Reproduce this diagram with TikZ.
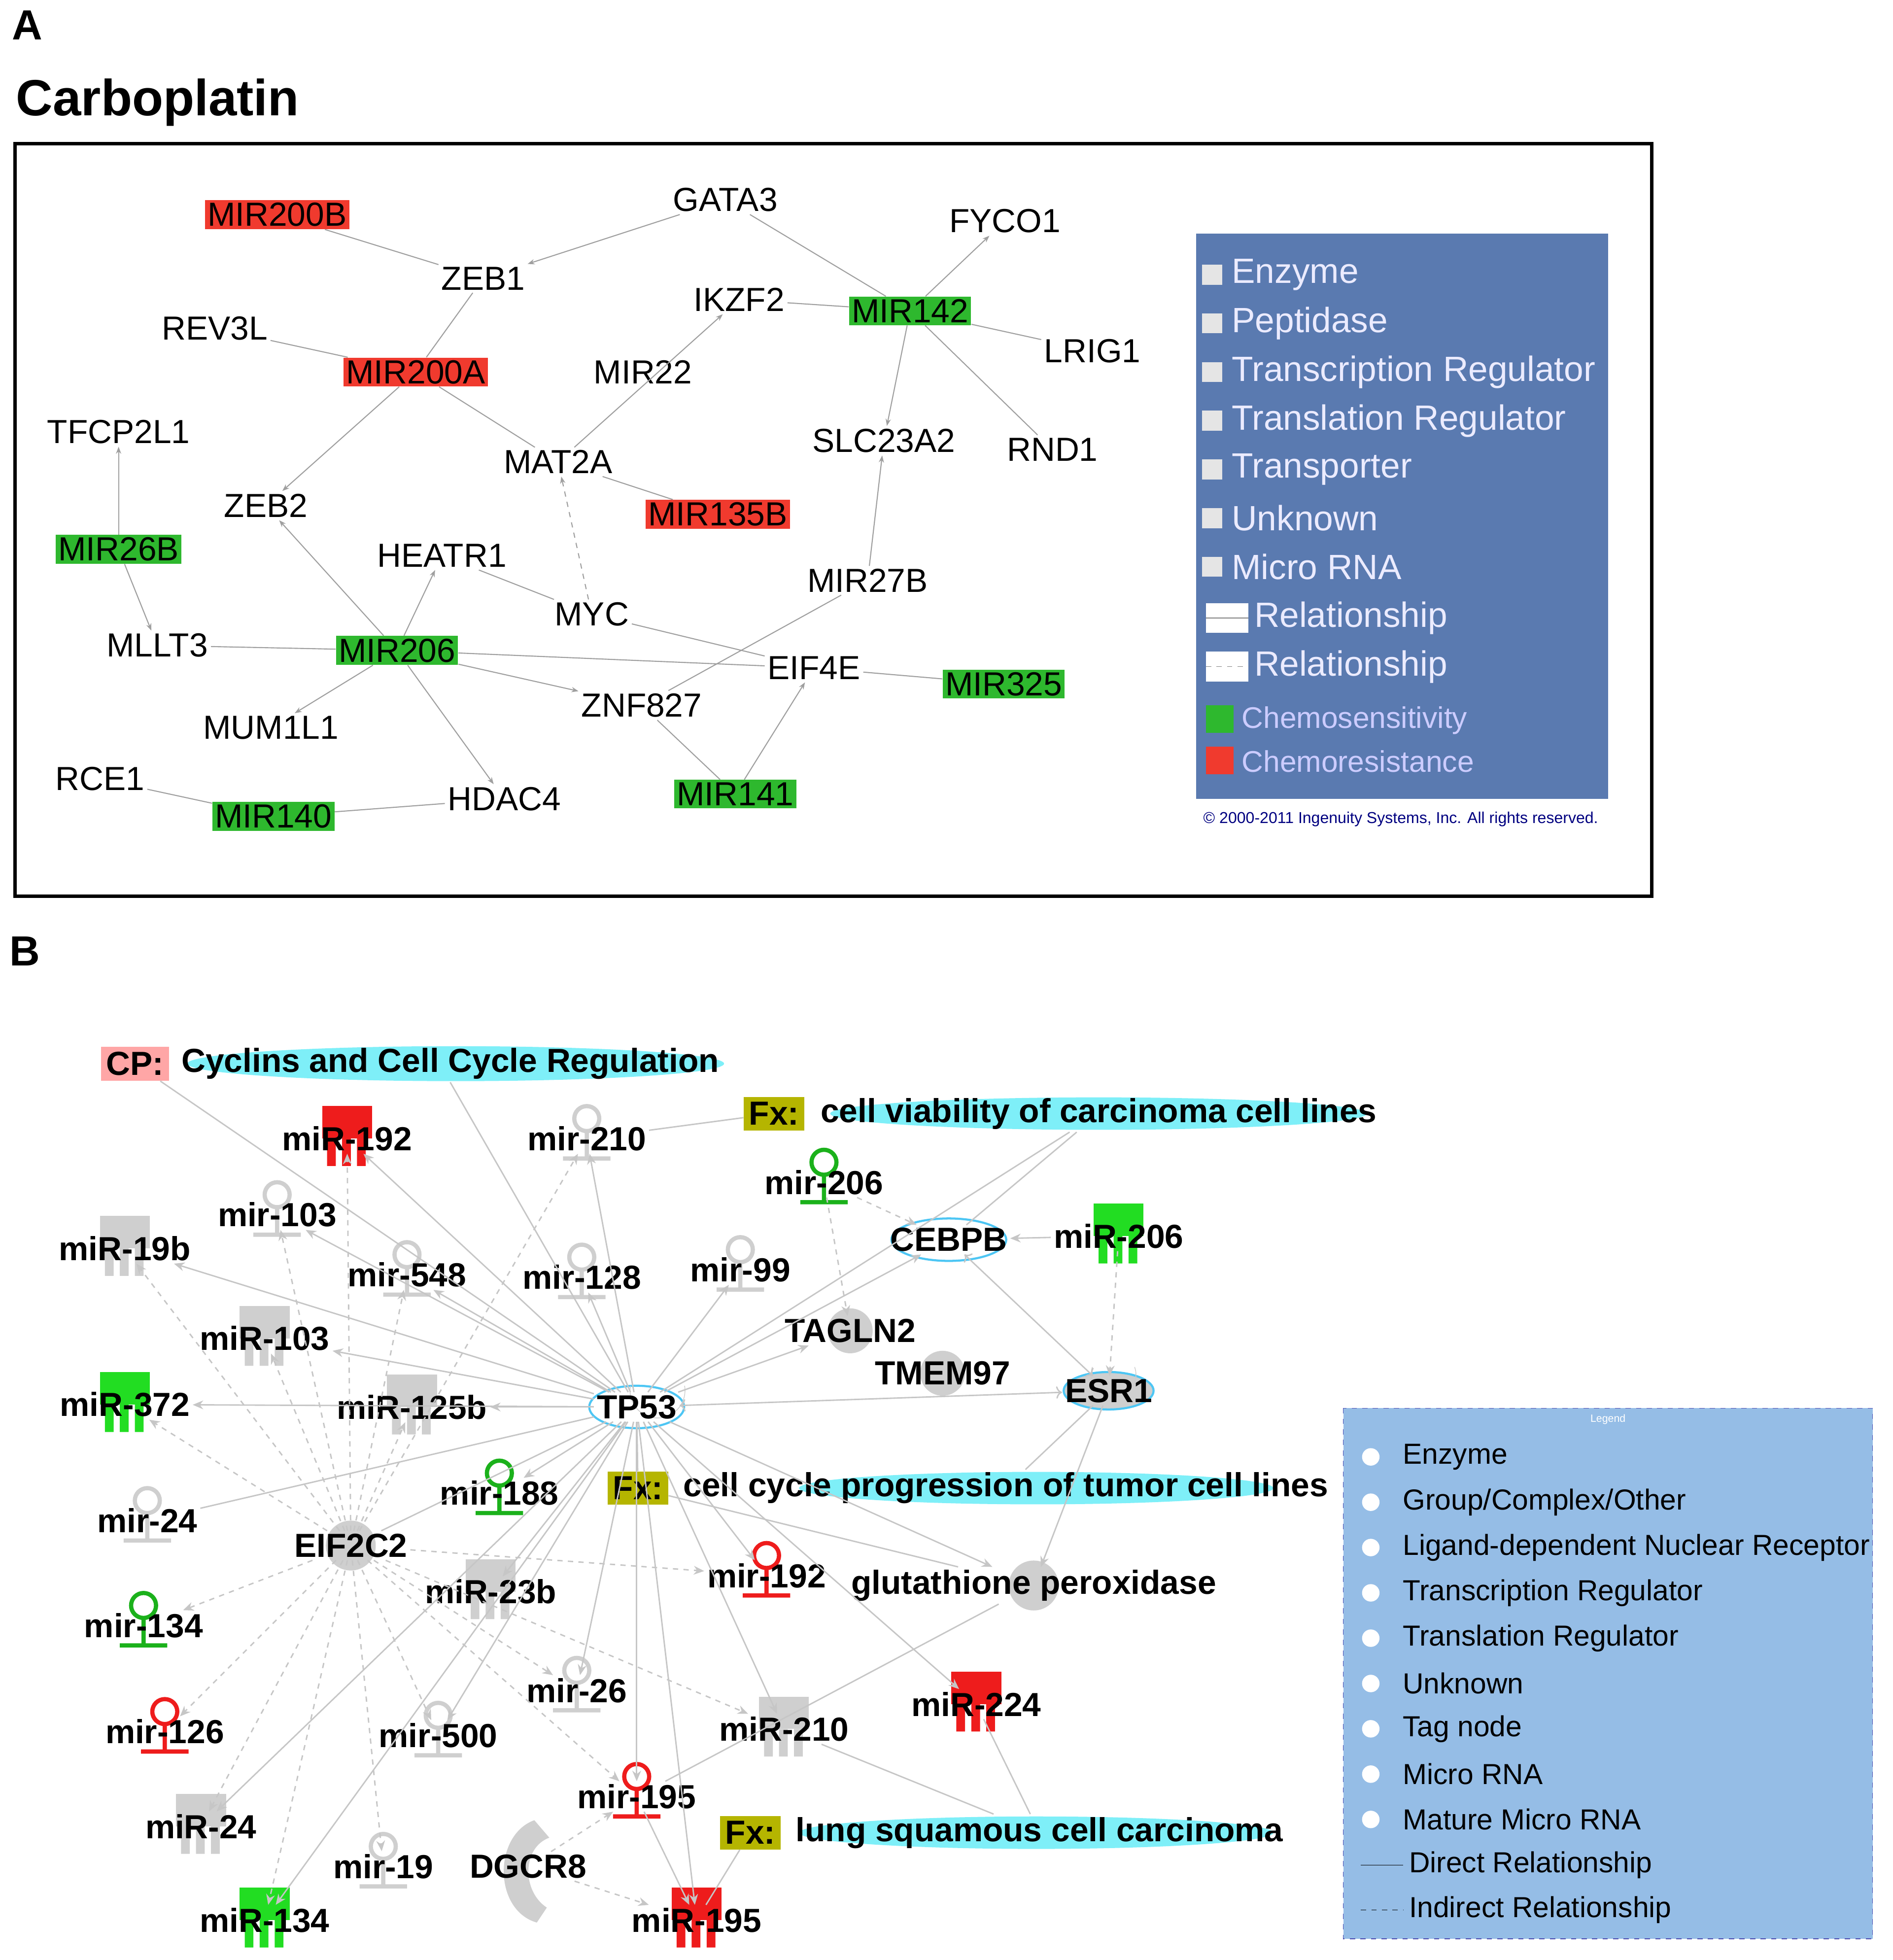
\documentclass[tikz,border=0pt]{standalone}
\usepackage{fontspec}
\setmainfont{Liberation Sans}
\usetikzlibrary{arrows.meta}
\definecolor{ared}{HTML}{F03A2E}
\definecolor{agreen}{HTML}{2EB82E}
\definecolor{bred}{HTML}{EE1C1C}
\definecolor{bgreen}{HTML}{22DD22}
\definecolor{shp}{HTML}{CFCFCF}
\definecolor{cyanh}{HTML}{7EEFF8}
\definecolor{olive}{HTML}{B5B500}
\definecolor{legA}{HTML}{5A7AB0}
\definecolor{legB}{HTML}{95BDE6}
\newcommand\matn[5]{\pic[fill=#5] at (#2,#3) {mature}; \node[bl] (#1) at (#2,#3) {#4};}
\newcommand\hpn[5]{\pic[draw=#5] at (#2,#3) {hairpin}; \node[bl] (#1) at (#2,#3) {#4};}
\begin{document}
\begin{tikzpicture}[x=0.25mm,y=-0.25mm,
 an/.style={font=\fontsize{19}{19}\selectfont, inner sep=1.5pt},
 ar/.style={an, fill=ared},
 ag/.style={an, fill=agreen},
 ae/.style={draw=gray!75, line width=0.6pt},
 aa/.style={ae, -{Stealth[length=4pt,width=3pt]}},
 bl/.style={font=\bfseries\fontsize{19}{19}\selectfont, inner sep=1.5pt},
 be/.style={draw=gray!45, line width=0.8pt},
 ba/.style={be, -{Stealth[length=6pt,width=5pt]}},
 bd/.style={ba, dashed},
 mature/.pic={\fill[pic actions] (-20,-26) rectangle (20,0);
   \fill[pic actions] (-16,0) rectangle (-9,22) (-4,0) rectangle (3,22) (8,0) rectangle (15,22);},
 hairpin/.pic={\draw[pic actions, line width=2.4pt] (0,-16) circle (10) (0,-6)--(0,16) (-19,16)--(19,16);},
 fxl/.style={font=\bfseries\fontsize{19}{19}\selectfont, fill=olive, inner sep=3pt},
 lg/.style={font=\fontsize{16.5}{16.5}\selectfont, anchor=west, inner sep=1pt},
 lga/.style={anchor=west, inner sep=1pt, font=\fontsize{20}{20}\selectfont, text=white!92!blue}
]
\useasboundingbox (0,0) rectangle (1516,1570);
% ================= Panel A
\node[font=\rmfamily\bfseries\fontsize{24}{24}\selectfont] at (22,20) {A};
\node[font=\bfseries\fontsize{29}{29}\selectfont, anchor=west] at (8,82) {Carboplatin};
\draw[line width=2pt] (12,115) rectangle (1323,718);
\node[ar] (MIR200B) at (222,172) {MIR200B};
\node[an] (GATA3) at (581,160) {GATA3};
\node[an] (FYCO1) at (805,177) {FYCO1};
\node[an] (ZEB1) at (387,223) {ZEB1};
\node[an] (IKZF2) at (592,240) {IKZF2};
\node[ag] (MIR142) at (729,249) {MIR142};
\node[an] (REV3L) at (172,263) {REV3L};
\node[an] (LRIG1) at (875,281) {LRIG1};
\node[ar] (MIR200A) at (333,298) {MIR200A};
\node[an] (MIR22) at (515,298) {MIR22};
\node[an] (TFCP2L1) at (95,346) {TFCP2L1};
\node[an] (SLC23A2) at (708,353) {SLC23A2};
\node[an] (RND1) at (843,360) {RND1};
\node[an] (MAT2A) at (447,370) {MAT2A};
\node[an] (ZEB2) at (213,405) {ZEB2};
\node[ar] (MIR135B) at (575,412) {MIR135B};
\node[ag] (MIR26B) at (95,440) {MIR26B};
\node[an] (HEATR1) at (354,445) {HEATR1};
\node[an] (MIR27B) at (695,465) {MIR27B};
\node[an] (MYC) at (474,492) {MYC};
\node[an] (MLLT3) at (126,517) {MLLT3};
\node[ag] (MIR206) at (318,521) {MIR206};
\node[an] (EIF4E) at (652,535) {EIF4E};
\node[ag] (MIR325) at (804,548) {MIR325};
\node[an] (ZNF827) at (514,565) {ZNF827};
\node[an] (MUM1L1) at (217,583) {MUM1L1};
\node[an] (RCE1) at (80,624) {RCE1};
\node[an] (HDAC4) at (404,640) {HDAC4};
\node[ag] (MIR141) at (589,636) {MIR141};
\node[ag] (MIR140) at (219,654) {MIR140};
\draw[ae] (MIR200B)--(ZEB1);
\draw[aa] (GATA3)--(ZEB1);
\draw[ae] (GATA3)--(MIR142);
\draw[ae] (ZEB1)--(MIR200A);
\draw[ae] (REV3L)--(MIR200A);
\draw[aa] (MIR200A)--(ZEB2);
\draw[ae] (MIR200A)--(MAT2A);
\draw[aa] (MAT2A)--(IKZF2);
\draw[ae] (IKZF2)--(MIR142);
\draw[aa] (MIR142)--(FYCO1);
\draw[ae] (MIR142)--(LRIG1);
\draw[ae] (MIR142)--(RND1);
\draw[aa] (MIR142)--(SLC23A2);
\draw[ae] (MAT2A)--(MIR135B);
\draw[aa,dashed] (MYC)--(MAT2A);
\draw[aa] (MIR27B)--(SLC23A2);
\draw[aa] (MIR26B)--(TFCP2L1);
\draw[aa] (MIR26B)--(MLLT3);
\draw[ae] (MLLT3)--(MIR206);
\draw[aa] (MIR206)--(ZEB2);
\draw[aa] (MIR206)--(HEATR1);
\draw[ae] (HEATR1)--(MYC);
\draw[ae] (MYC)--(EIF4E);
\draw[ae] (MIR206)--(EIF4E);
\draw[aa] (MIR206)--(MUM1L1);
\draw[aa] (MIR206)--(HDAC4);
\draw[aa] (MIR206)--(ZNF827);
\draw[ae] (ZNF827)--(MIR27B);
\draw[ae] (ZNF827)--(MIR141);
\draw[aa] (MIR141)--(EIF4E);
\draw[ae] (EIF4E)--(MIR325);
\draw[ae] (RCE1)--(MIR140);
\draw[ae] (MIR140)--(HDAC4);
% legend A
\fill[legA] (958,187) rectangle (1288,640);
\foreach \t [count=\i] in {Enzyme,Peptidase,Transcription Regulator,Translation Regulator,Transporter,Unknown,Micro RNA}{
  \fill[white!80!gray] (963,212+39*\i-39) rectangle (979,228+39*\i-39);
  \node[lga] at (985,220+39*\i-39) {\t};}
\fill[white] (966,483) rectangle (1000,507);
\draw[gray] (966,495)--(1000,495);
\node[lga] at (1003,495) {Relationship};
\fill[white] (966,522) rectangle (1000,546);
\draw[gray, dashed] (966,534)--(1000,534);
\node[lga] at (1003,534) {Relationship};
\fill[agreen] (966,565) rectangle (988,587);
\node[lga, font=\fontsize{17}{17}\selectfont, text=white!80!blue] at (993,577) {Chemosensitivity};
\fill[ared] (966,598) rectangle (988,620);
\node[lga, font=\fontsize{17}{17}\selectfont, text=white!80!blue] at (993,610) {Chemoresistance};
\node[font=\fontsize{9}{9}\selectfont, text=blue!50!black] at (1122,656) {\textcopyright\ 2000-2011 Ingenuity Systems, Inc. All rights reserved.};
% ================= Panel B
\node[font=\rmfamily\bfseries\fontsize{24}{24}\selectfont] at (20,762) {B};
\fill[cyanh] (365,852) ellipse (215 and 14);
\fill[cyanh] (880,892) ellipse (215 and 13);
\fill[cyanh] (830,1192) ellipse (190 and 13);
\fill[cyanh] (830,1468) ellipse (190 and 13);
\node[font=\bfseries\fontsize{19}{19}\selectfont, fill=red!35, inner sep=3pt] (CP) at (108,852) {CP:};
\node[bl, anchor=west] (CPt) at (143,852) {Cyclins and Cell Cycle Regulation};
\node[fxl] (FX1) at (620,892) {Fx:};
\node[bl, anchor=west] (FX1t) at (655,892) {cell viability of carcinoma cell lines};
\node[fxl] (FX2) at (511,1192) {Fx:};
\node[bl, anchor=west] (FX2t) at (545,1192) {cell cycle progression of tumor cell lines};
\node[fxl] (FX3) at (601,1468) {Fx:};
\node[bl, anchor=west] (FX3t) at (635,1468) {lung squamous cell carcinoma};
\fill[shp] (281,1238) circle (20);
\fill[shp] (681,1066) circle (18);
\fill[shp] (755,1100) circle (18);
\fill[shp] (828,1270) circle (20);
\fill[shp] (428,1458) .. controls (395,1470) and (395,1530) .. (430,1540) -- (438,1528) .. controls (418,1515) and (418,1480) .. (440,1472) -- cycle;
\draw[cyan!70, line width=1.2pt, fill=white] (510,1127) ellipse (38 and 17);
\draw[cyan!70, line width=1.2pt, fill=white] (760,993) ellipse (46 and 17);
\draw[cyan!70, line width=1.2pt, fill=shp] (888,1114) ellipse (36 and 15);
\draw[gray!40] (505,1110) arc (190:-10:22);
\draw[gray!40] (875,1095) arc (200:-20:18);
\node[bl] (TP53) at (510,1127) {TP53};
\node[bl] (CEBPB) at (760,993) {CEBPB};
\node[bl] (ESR1) at (888,1114) {ESR1};
\node[bl] (TAGLN2) at (681,1066) {TAGLN2};
\node[bl] (TMEM97) at (755,1100) {TMEM97};
\node[bl] (GP) at (828,1270) {glutathione peroxidase};
\node[bl] (EIF) at (281,1238) {EIF2C2};
\node[bl] (DGCR8) at (423,1495) {DGCR8};
\matn{M192}{278}{912}{miR-192}{bred}
\hpn{m210}{470}{912}{mir-210}{shp}
\hpn{m206}{660}{947}{mir-206}{bgreen!80!black}
\hpn{m103}{222}{973}{mir-103}{shp}
\matn{M19b}{100}{1000}{miR-19b}{shp}
\matn{M206}{896}{990}{miR-206}{bgreen}
\hpn{m548}{326}{1021}{mir-548}{shp}
\hpn{m128}{466}{1023}{mir-128}{shp}
\hpn{m99}{593}{1017}{mir-99}{shp}
\matn{M103}{212}{1072}{miR-103}{shp}
\matn{M372}{100}{1125}{miR-372}{bgreen}
\matn{M125b}{330}{1127}{miR-125b}{shp}
\hpn{m188}{400}{1196}{mir-188}{bgreen!80!black}
\hpn{m24}{118}{1218}{mir-24}{shp}
\matn{M23b}{393}{1275}{miR-23b}{shp}
\hpn{m192}{614}{1262}{mir-192}{bred}
\hpn{m134}{115}{1302}{mir-134}{bgreen!80!black}
\hpn{m26}{462}{1354}{mir-26}{shp}
\matn{M210}{628}{1385}{miR-210}{shp}
\matn{M224}{782}{1365}{miR-224}{bred}
\hpn{m126}{132}{1387}{mir-126}{bred}
\hpn{m500}{351}{1390}{mir-500}{shp}
\hpn{m195}{510}{1439}{mir-195}{bred}
\matn{M24}{161}{1463}{miR-24}{shp}
\hpn{m19}{307}{1495}{mir-19}{shp}
\matn{M134}{212}{1538}{miR-134}{bgreen}
\matn{M195}{558}{1538}{miR-195}{bred}
\foreach \t in {M192,m210,m103,M19b,m548,m128,m99,CEBPB,TAGLN2,M103,M372,M125b,m188,M23b,m192,GP,M210,m26,m500,m195,M195,M224,M24,M134}{
  \draw[ba] (TP53)--(\t);}
\draw[ba,<->] (TP53)--(ESR1);
\draw[be] (TP53)--(m24);
\draw[be] (TP53)--(EIF);
\foreach \t in {M192,m103,m548,m210,M125b,M103,M19b,M372,m134,m126,M24,M134,m19,m500,m26,M210,m192,m195}{
  \draw[bd] (EIF)--(\t);}
\draw[bd] (DGCR8)--(m195);
\draw[bd] (DGCR8)--(M195);
\draw[ba] (m195)--(M195);
\draw[bd] (m206)--(CEBPB);
\draw[bd] (m206)--(TAGLN2);
\draw[ba] (M206)--(CEBPB);
\draw[bd] (M206)--(ESR1);
\draw[ba,<->] (CEBPB)--(ESR1);
\draw[ba] (ESR1)--(GP);
\draw[be] (CP)--(TP53);
\draw[be] (CPt.south)--(TP53);
\draw[be] (FX1)--(m210);
\draw[be] (FX1t)--(TP53);
\draw[be] (FX1t)--(CEBPB);
\draw[be] (FX2)--(TP53);
\draw[be] (FX2t)--(ESR1);
\draw[be] (FX2)--(GP);
\draw[be] (FX3t)--(M224);
\draw[be] (FX3t)--(M210);
\draw[be] (FX3)--(M195);
\draw[be] (m195)--(GP);
% legend B
\draw[dashed, draw=blue!40!gray, fill=legB] (1076,1128) rectangle (1500,1553);
\node[font=\fontsize{6}{6}\selectfont, text=white] at (1288,1137) {Legend};
\foreach \t [count=\i] in {Enzyme,Group/Complex/Other,Ligand-dependent Nuclear Receptor,Transcription Regulator,Translation Regulator,Unknown,Tag node,Micro RNA,Mature Micro RNA}{
  \fill[white] (1098,1167+36.3*\i-36.3) circle (7);
  \node[lg] at (1122,1167+36.3*\i-36.3) {\t};}
\draw[black] (1090,1494)--(1124,1494);
\node[lg] at (1127,1494) {Direct Relationship};
\draw[black, dashed] (1090,1530)--(1124,1530);
\node[lg] at (1127,1530) {Indirect Relationship};
\end{tikzpicture}
\end{document}
